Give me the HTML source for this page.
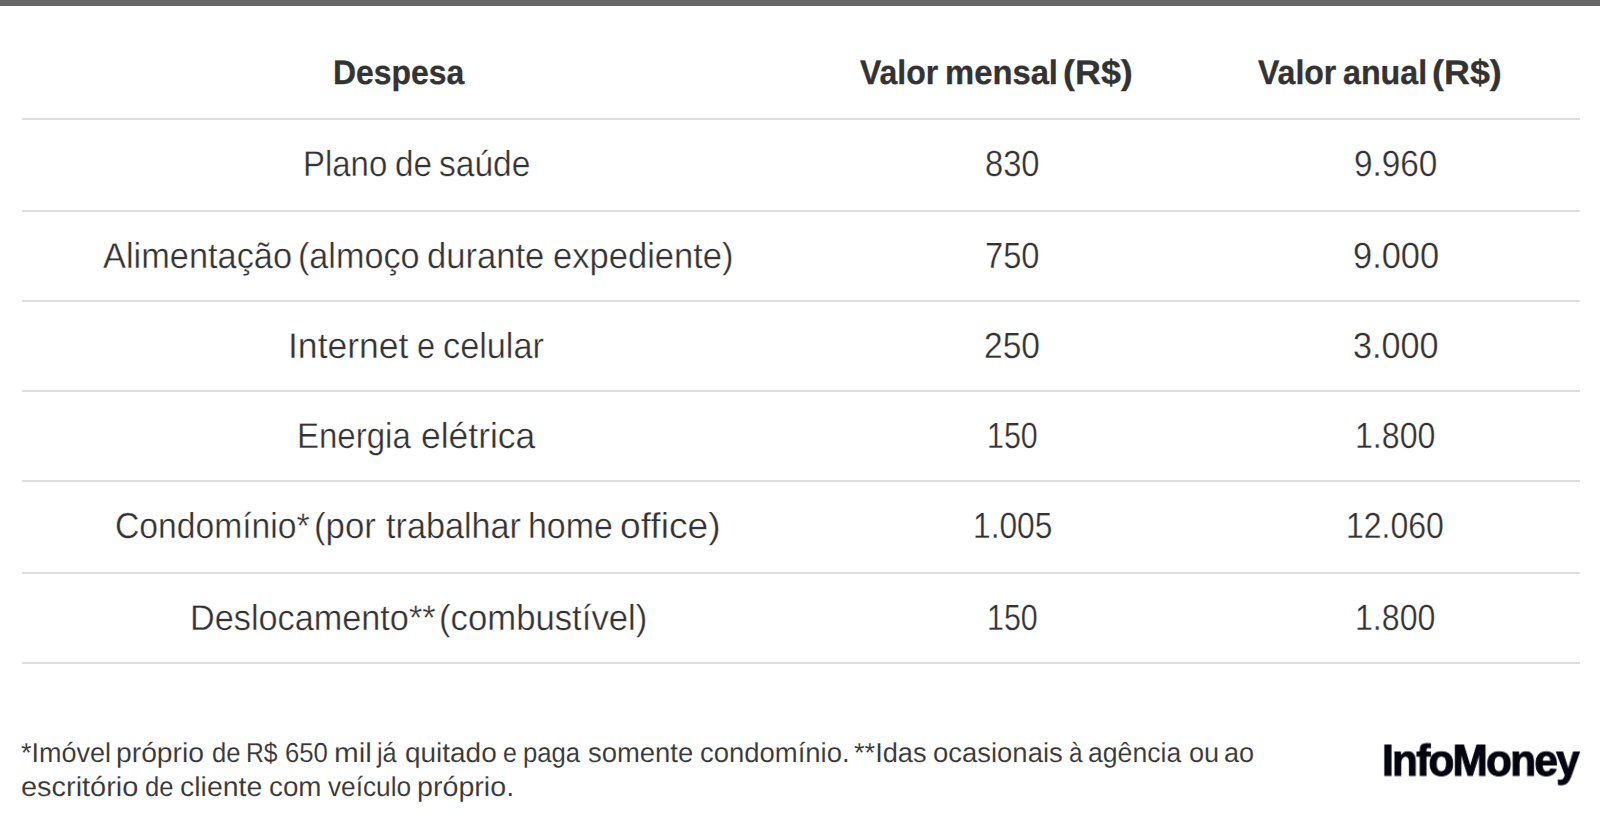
<!DOCTYPE html>
<html lang="pt-BR"><head><meta charset="utf-8"><title>Despesas</title>
<style>
html,body{margin:0;padding:0;background:#fff;}
body{width:1600px;height:822px;position:relative;overflow:hidden;font-family:"Liberation Sans",sans-serif;}
.bar{position:absolute;left:0;top:0;width:1600px;height:6px;background:#686868;}
.ln{position:absolute;left:22px;width:1558px;height:2px;background:#dedede;}
.table,.thead,.tr,.th,.td,.note,.brand{margin:0;padding:0;position:static;}
.t{position:absolute;white-space:pre;transform-origin:0 0;text-rendering:geometricPrecision;}
.h{font-weight:700;font-size:34px;line-height:41px;color:#333333;-webkit-text-stroke:0.3px #333333;}
.b{font-weight:400;font-size:36px;line-height:43px;color:#333333;-webkit-text-stroke:0.35px #fff;}
.n{font-weight:400;font-size:36.5px;line-height:44px;color:#333333;-webkit-text-stroke:0.3px #fff;}
.lg{will-change:transform;font-weight:700;font-size:44.2px;line-height:53px;color:#05050f;-webkit-text-stroke:1.1px #05050f;}
.f{font-weight:400;font-size:27.5px;line-height:33px;color:#383838;-webkit-text-stroke:0.1px #fff;}
</style></head>
<body>
<div class="bar"></div>
<div class="table">
<div class="thead">
  <div class="th"><span class="t h" style="left:332.66px;top:52.55px;transform:scaleX(0.9386)">Despesa</span></div>
  <div class="th"><span class="t h" style="left:860.36px;top:52.55px;transform:scaleX(0.9408)">Valor</span> <span class="t h" style="left:945.31px;top:52.55px;transform:scaleX(0.9642)">mensal</span> <span class="t h" style="left:1062.66px;top:52.55px;transform:scaleX(1.0558)">(R$)</span></div>
  <div class="th"><span class="t h" style="left:1258.06px;top:52.55px;transform:scaleX(0.9420)">Valor</span> <span class="t h" style="left:1343.35px;top:52.55px;transform:scaleX(0.9481)">anual</span> <span class="t h" style="left:1432.16px;top:52.55px;transform:scaleX(1.0558)">(R$)</span></div>
</div>
<div class="ln" style="top:118px"></div>
<div class="tr">
  <div class="td"><span class="t b" style="left:302.89px;top:142.08px;transform:scaleX(0.9153)">Plano</span> <span class="t b" style="left:394.92px;top:142.08px;transform:scaleX(0.9231)">de</span> <span class="t b" style="left:439.33px;top:142.08px;transform:scaleX(0.9315)">saúde</span></div>
  <div class="td"><span class="t n" style="left:984.88px;top:142.05px;transform:scaleX(0.8956)">830</span></div>
  <div class="td"><span class="t n" style="left:1353.63px;top:142.05px;transform:scaleX(0.9132)">9.960</span></div>
</div>
<div class="ln" style="top:210px"></div>
<div class="tr">
  <div class="td"><span class="t b" style="left:103.25px;top:233.98px;transform:scaleX(0.9545)">Alimentação</span> <span class="t b" style="left:298.15px;top:233.98px;transform:scaleX(0.9488)">(almoço</span> <span class="t b" style="left:427.46px;top:233.98px;transform:scaleX(0.9607)">durante</span> <span class="t b" style="left:552.66px;top:233.98px;transform:scaleX(0.9598)">expediente)</span></div>
  <div class="td"><span class="t n" style="left:984.97px;top:233.95px;transform:scaleX(0.8941)">750</span></div>
  <div class="td"><span class="t n" style="left:1352.76px;top:233.95px;transform:scaleX(0.9428)">9.000</span></div>
</div>
<div class="ln" style="top:300px"></div>
<div class="tr">
  <div class="td"><span class="t b" style="left:288.06px;top:324.18px;transform:scaleX(0.9870)">Internet</span> <span class="t b" style="left:417.25px;top:324.18px;transform:scaleX(0.9037)">e</span> <span class="t b" style="left:442.98px;top:324.18px;transform:scaleX(0.9518)">celular</span></div>
  <div class="td"><span class="t n" style="left:984.32px;top:324.15px;transform:scaleX(0.9185)">250</span></div>
  <div class="td"><span class="t n" style="left:1353.31px;top:324.15px;transform:scaleX(0.9368)">3.000</span></div>
</div>
<div class="ln" style="top:390px"></div>
<div class="tr">
  <div class="td"><span class="t b" style="left:297.39px;top:414.18px;transform:scaleX(0.9166)">Energia</span> <span class="t b" style="left:421.13px;top:414.18px;transform:scaleX(0.9842)">elétrica</span></div>
  <div class="td"><span class="t n" style="left:986.93px;top:414.15px;transform:scaleX(0.8326)">150</span></div>
  <div class="td"><span class="t n" style="left:1355.10px;top:414.15px;transform:scaleX(0.8802)">1.800</span></div>
</div>
<div class="ln" style="top:480px"></div>
<div class="tr">
  <div class="td"><span class="t b" style="left:115.48px;top:504.07px;transform:scaleX(0.9352)">Condomínio*</span> <span class="t b" style="left:314.31px;top:504.07px;transform:scaleX(0.9672)">(por</span> <span class="t b" style="left:386.15px;top:504.07px;transform:scaleX(0.9499)">trabalhar</span> <span class="t b" style="left:528.23px;top:504.07px;transform:scaleX(0.9427)">home</span> <span class="t b" style="left:620.35px;top:504.07px;transform:scaleX(1.0327)">office)</span></div>
  <div class="td"><span class="t n" style="left:972.63px;top:504.05px;transform:scaleX(0.8687)">1.005</span></div>
  <div class="td"><span class="t n" style="left:1346.31px;top:504.05px;transform:scaleX(0.8768)">12.060</span></div>
</div>
<div class="ln" style="top:572px"></div>
<div class="tr">
  <div class="td"><span class="t b" style="left:189.62px;top:595.97px;transform:scaleX(0.9513)">Deslocamento**</span> <span class="t b" style="left:438.91px;top:595.97px;transform:scaleX(0.9643)">(combustível)</span></div>
  <div class="td"><span class="t n" style="left:986.93px;top:595.95px;transform:scaleX(0.8326)">150</span></div>
  <div class="td"><span class="t n" style="left:1355.10px;top:595.95px;transform:scaleX(0.8802)">1.800</span></div>
</div>
<div class="ln" style="top:662px"></div>
</div>
<p class="note">
<span class="t f" style="left:21.03px;top:735.75px;transform:scaleX(0.9825)">*Imóvel</span> <span class="t f" style="left:116.47px;top:735.75px;transform:scaleX(1.0284)">próprio</span> <span class="t f" style="left:211.87px;top:735.75px;transform:scaleX(0.9314)">de</span> <span class="t f" style="left:246.35px;top:735.75px;transform:scaleX(0.8986)">R$</span> <span class="t f" style="left:285.07px;top:735.75px;transform:scaleX(0.9350)">650</span> <span class="t f" style="left:334.36px;top:735.75px;transform:scaleX(1.0811)">mil</span> <span class="t f" style="left:377.47px;top:735.75px;transform:scaleX(0.9201)">já</span> <span class="t f" style="left:404.77px;top:735.75px;transform:scaleX(1.0166)">quitado</span> <span class="t f" style="left:502.91px;top:735.75px;transform:scaleX(0.9033)">e</span> <span class="t f" style="left:523.07px;top:735.75px;transform:scaleX(0.9333)">paga</span> <span class="t f" style="left:588.22px;top:735.75px;transform:scaleX(0.9978)">somente</span> <span class="t f" style="left:700.19px;top:735.75px;transform:scaleX(0.9988)">condomínio.</span> <span class="t f" style="left:854.43px;top:735.75px;transform:scaleX(0.9889)">**Idas</span> <span class="t f" style="left:932.99px;top:735.75px;transform:scaleX(0.9983)">ocasionais</span> <span class="t f" style="left:1068.53px;top:735.75px;transform:scaleX(0.8843)">à</span> <span class="t f" style="left:1088.43px;top:735.75px;transform:scaleX(0.9679)">agência</span> <span class="t f" style="left:1188.91px;top:735.75px;transform:scaleX(0.9860)">ou</span> <span class="t f" style="left:1224.41px;top:735.75px;transform:scaleX(0.9852)">ao</span>
<span class="t f" style="left:21.23px;top:769.85px;transform:scaleX(1.0516)">escritório</span> <span class="t f" style="left:144.87px;top:769.85px;transform:scaleX(0.9314)">de</span> <span class="t f" style="left:179.75px;top:769.85px;transform:scaleX(1.0362)">cliente</span> <span class="t f" style="left:268.78px;top:769.85px;transform:scaleX(1.0108)">com</span> <span class="t f" style="left:327.67px;top:769.85px;transform:scaleX(0.9541)">veículo</span> <span class="t f" style="left:416.85px;top:769.85px;transform:scaleX(1.0414)">próprio.</span>
</p>
<div class="brand"><span class="t lg" style="left:1381.50px;top:734px;letter-spacing:-1.8px;transform:translateY(0.50px) scaleX(0.9570)">InfoMoney</span></div>
</body></html>
